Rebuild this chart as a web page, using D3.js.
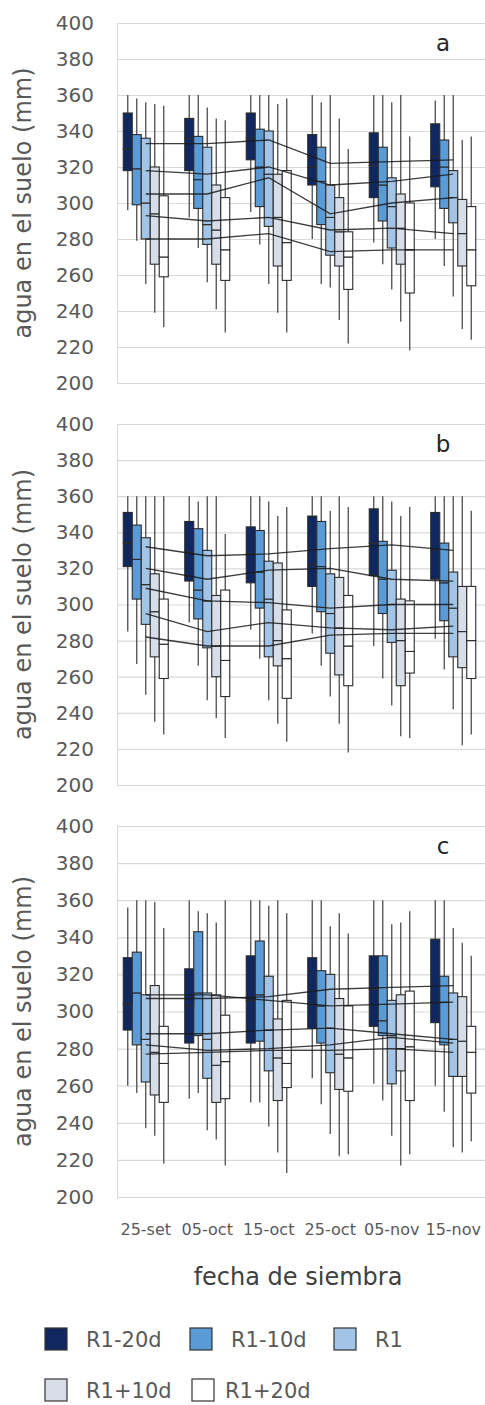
<!DOCTYPE html>
<html>
<head>
<meta charset="utf-8">
<script src="https://cdn.jsdelivr.net/npm/d3@7"></script>
<style>
  body { margin: 0; background: #fff; }
  svg { display: block; }
  text { font-family: "DejaVu Sans", sans-serif; }
</style>
</head>
<body>
<script>
const dates = ["25-set", "05-oct", "15-oct", "25-oct", "05-nov", "15-nov"];
const series = ["R1-20d", "R1-10d", "R1", "R1+10d", "R1+20d"];
const colors = ["#10285f", "#5b9bd5", "#a2c4e6", "#d8dee8", "#ffffff"];
const yTicks = [200, 220, 240, 260, 280, 300, 320, 340, 360, 380, 400];

// rows = series, columns = dates
// panel a
const aMax = [[360, 360, 360, 360, 360, 357], [358, 360, 360, 356, 360, 360], [356, 353, 360, 360, 356, 360], [355, 347, 355, 347, 360, 335], [354, 346, 358, 330, 337, 337]];
const aQ3 = [[350, 347, 350, 338, 339, 344], [338, 337, 341, 331, 331, 335], [336, 331, 340, 310, 314, 318], [320, 310, 316, 303, 305, 302], [304, 303, 318, 284, 300, 298]];
const aMed = [[330, 336, 336, 320, 321, 326], [319, 313, 320, 312, 310, 320], [300, 288, 316, 292, 298, 303], [294, 285, 292, 284, 286, 283], [270, 274, 278, 270, 274, 274]];
const aQ1 = [[318, 318, 324, 310, 303, 309], [299, 297, 298, 288, 290, 297], [280, 277, 287, 271, 275, 289], [266, 266, 265, 265, 266, 265], [259, 257, 257, 252, 250, 254]];
const aMin = [[296, 292, 295, 280, 278, 280], [279, 275, 277, 255, 266, 265], [255, 256, 255, 253, 252, 248], [239, 241, 239, 235, 234, 230], [231, 228, 228, 222, 218, 224]];
const aMean = [[333, 333, 335, 322, 323, 324], [318, 316, 320, 310, 312, 316], [305, 305, 314, 294, 300, 303], [293, 290, 292, 285, 286, 283], [280, 280, 283, 273, 274, 274]];

// panel b
const bMax = [[360, 360, 360, 360, 360, 360], [360, 357, 360, 360, 360, 360], [360, 360, 357, 352, 357, 360], [360, 360, 349, 360, 349, 360], [360, 339, 354, 354, 354, 352]];
const bQ3 = [[351, 346, 343, 349, 353, 351], [344, 342, 341, 346, 335, 334], [337, 330, 324, 317, 319, 318], [317, 305, 323, 315, 303, 310], [303, 308, 297, 305, 302, 310]];
const bMed = [[334, 329, 328, 322, 334, 330], [325, 308, 318, 321, 314, 312], [311, 302, 303, 295, 300, 298], [296, 277, 280, 287, 280, 285], [278, 269, 270, 277, 274, 280]];
const bQ1 = [[321, 313, 312, 310, 316, 314], [303, 292, 298, 296, 295, 291], [289, 276, 271, 273, 279, 271], [271, 260, 266, 261, 255, 265], [259, 249, 248, 255, 262, 259]];
const bMin = [[285, 290, 286, 284, 277, 281], [267, 266, 270, 266, 259, 264], [250, 247, 247, 249, 244, 242], [235, 237, 234, 234, 227, 222], [228, 226, 224, 218, 226, 228]];
const bMean = [[332, 327, 328, 331, 333, 330], [320, 314, 319, 320, 314, 313], [309, 302, 301, 298, 300, 300], [295, 285, 290, 287, 286, 288], [282, 277, 277, 283, 284, 284]];

// panel c
const cMax = [[356, 360, 360, 360, 360, 360], [360, 354, 360, 360, 360, 360], [360, 353, 357, 346, 347, 345], [359, 348, 360, 353, 348, 337], [345, 360, 353, 342, 354, 330]];
const cQ3 = [[329, 323, 330, 329, 330, 339], [332, 343, 338, 322, 330, 319], [309, 310, 319, 320, 306, 310], [314, 309, 296, 307, 309, 308], [292, 298, 306, 303, 311, 292]];
const cMed = [[304, 303, 306, 304, 312, 305], [310, 310, 309, 303, 295, 305], [285, 285, 290, 291, 287, 285], [278, 271, 275, 277, 280, 284], [272, 273, 272, 275, 281, 278]];
const cQ1 = [[290, 283, 283, 291, 292, 294], [282, 287, 284, 283, 287, 282], [262, 264, 268, 267, 261, 265], [255, 251, 252, 258, 268, 265], [251, 253, 259, 257, 252, 256]];
const cMin = [[260, 253, 251, 264, 261, 260], [256, 256, 251, 250, 252, 246], [237, 236, 238, 234, 233, 227], [233, 231, 224, 222, 217, 224], [218, 217, 213, 223, 223, 230]];
const cMean = [[307, 307, 308, 312, 313, 314], [309, 309, 306, 303, 304, 305], [288, 288, 290, 291, 288, 285], [282, 279, 280, 282, 286, 283], [277, 278, 279, 279, 280, 278]];

const panels = [
    { label: "a", min: aMin, q1: aQ1, med: aMed, q3: aQ3, max: aMax, mean: aMean },
    { label: "b", min: bMin, q1: bQ1, med: bMed, q3: bQ3, max: bMax, mean: bMean },
    { label: "c", min: cMin, q1: cQ1, med: cMed, q3: cQ3, max: cMax, mean: cMean },
];

const width = 485;
const height = 1405;
const plotLeft = 117;
const plotRight = 485;
const panelTop = [23, 424, 826];
const panelBottom = [383, 785, 1197];

const svg = d3.select('body').append('svg')
    .attr('width', width)
    .attr('height', height);

const x = d3.scaleBand()
    .domain(dates)
    .range([plotLeft - 2, plotRight - 1]);

const xs = d3.scaleBand()
    .domain(series)
    .range([-22.5, 22.5]);

function groupCenter(date) {
    return x(date) + x.bandwidth() / 2;
}

panels.forEach((p, pi) => {
    const y = d3.scaleLinear()
        .domain([200, 400])
        .range([panelBottom[pi], panelTop[pi]]);

    const g = svg.append('g').attr('class', 'panel');

    // grid + y labels
    const yAxis = g.append('g')
        .attr('transform', `translate(${plotLeft},0)`)
        .call(d3.axisLeft(y).tickValues(yTicks).tickSize(-(plotRight - plotLeft)).tickPadding(23));
    yAxis.select('.domain').attr('stroke', '#d9d9d9');
    yAxis.selectAll('.tick line').attr('stroke', '#d9d9d9').attr('stroke-width', 1.2);
    yAxis.selectAll('.tick text')
        .attr('fill', '#595959')
        .style('font-size', '20px')
        .style('font-family', '"DejaVu Sans", sans-serif');

    g.append('text')
        .attr('transform', `translate(23,${(panelTop[pi] + panelBottom[pi]) / 2}) rotate(-90)`)
        .attr('text-anchor', 'middle')
        .attr('dominant-baseline', 'central')
        .attr('fill', '#595959')
        .style('font-size', '24px')
        .text('agua en el suelo (mm)');

    g.append('text')
        .attr('x', 443)
        .attr('y', panelTop[pi] + 28)
        .attr('text-anchor', 'middle')
        .attr('fill', '#262626')
        .style('font-size', '23px')
        .text(p.label);

    // one record per box
    const boxes = [];
    series.forEach((s, si) => {
        dates.forEach((d, di) => {
            boxes.push({
                s, si, d,
                min: p.min[si][di], q1: p.q1[si][di], med: p.med[si][di],
                q3: p.q3[si][di], max: p.max[si][di]
            });
        });
    });

    const bx = d => groupCenter(d.d) + xs(d.s);
    const bw = xs.bandwidth();

    g.append('g').attr('class', 'whiskers')
        .selectAll('line')
        .data(boxes)
        .enter()
        .append('line')
        .attr('x1', d => bx(d) + bw / 2)
        .attr('x2', d => bx(d) + bw / 2)
        .attr('y1', d => y(d.max))
        .attr('y2', d => y(d.min))
        .attr('stroke', '#4d4d4d')
        .attr('stroke-width', 1.3);

    const boxG = g.append('g').attr('class', 'boxes');
    // lower half (q1 - median) and upper half (median - q3)
    boxG.selectAll('rect.lower')
        .data(boxes)
        .enter()
        .append('rect')
        .attr('class', 'lower')
        .attr('x', bx)
        .attr('width', bw)
        .attr('y', d => y(d.med))
        .attr('height', d => y(d.q1) - y(d.med))
        .attr('fill', d => colors[d.si])
        .attr('stroke', '#2b2b2b')
        .attr('stroke-width', 1.1);
    boxG.selectAll('rect.upper')
        .data(boxes)
        .enter()
        .append('rect')
        .attr('class', 'upper')
        .attr('x', bx)
        .attr('width', bw)
        .attr('y', d => y(d.q3))
        .attr('height', d => y(d.med) - y(d.q3))
        .attr('fill', d => colors[d.si])
        .attr('stroke', '#2b2b2b')
        .attr('stroke-width', 1.1);

    // mean lines across dates
    const line = d3.line()
        .x((v, i) => groupCenter(dates[i]))
        .y(v => y(v));
    g.append('g').attr('class', 'means')
        .selectAll('path')
        .data(p.mean)
        .enter()
        .append('path')
        .attr('d', line)
        .attr('fill', 'none')
        .attr('stroke', '#1a1a1a')
        .attr('stroke-opacity', 0.85)
        .attr('stroke-width', 1.3);
});

// x axis labels under the last panel
const xAxis = svg.append('g')
    .attr('transform', `translate(0,${panelBottom[2]})`)
    .call(d3.axisBottom(x).tickSize(0).tickPadding(27));
xAxis.select('.domain').remove();
xAxis.selectAll('.tick text')
    .attr('fill', '#595959')
    .style('font-size', '16px')
    .style('font-family', '"DejaVu Sans", sans-serif');

svg.append('text')
    .attr('x', 298)
    .attr('y', 1285)
    .attr('text-anchor', 'middle')
    .attr('fill', '#404040')
    .style('font-size', '24px')
    .text('fecha de siembra');

// legend
const legendSquareX = [45, 190, 334, 45, 192];
const legendTextX = [86, 231, 375, 86, 225];
const legendRowY = [1328, 1328, 1328, 1379, 1379];

const legend = svg.append('g').attr('class', 'legend');
series.forEach((s, i) => {
    legend.append('rect')
        .attr('x', legendSquareX[i])
        .attr('y', legendRowY[i])
        .attr('width', 22)
        .attr('height', 22)
        .attr('fill', colors[i])
        .attr('stroke', '#333')
        .attr('stroke-width', 1.2);
    legend.append('text')
        .attr('x', legendTextX[i])
        .attr('y', legendRowY[i] + 19)
        .attr('fill', '#595959')
        .style('font-size', '21px')
        .text(s);
});
</script>
</body>
</html>
